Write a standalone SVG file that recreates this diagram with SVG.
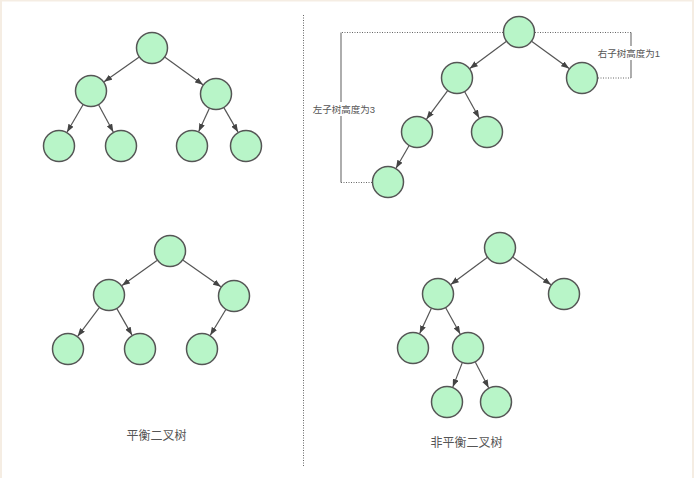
<svg xmlns="http://www.w3.org/2000/svg" width="694" height="478" viewBox="0 0 694 478">
<style>
.n{fill:#b8f5c8;stroke:#555;stroke-width:1.5}
.e{stroke:#555;stroke-width:1.2;fill:none;marker-end:url(#ah)}
.dot{stroke:#666;stroke-width:1;stroke-dasharray:1,1.5;fill:none}
.sol{stroke:#777;stroke-width:1.2;fill:none}
.t{font-family:"Liberation Sans","Noto Sans CJK SC",sans-serif;fill:#555}
</style>
<defs>
<marker id="ah" markerUnits="userSpaceOnUse" markerWidth="8" markerHeight="6" refX="8" refY="3" orient="auto">
<path d="M0,0 L8,3 L0,6 z" fill="#444"/>
</marker>
</defs>
<rect x="0" y="0" width="694" height="478" fill="#fff"/>
<rect x="0" y="0" width="694" height="1.5" fill="#f5ede3"/>
<rect x="0" y="0" width="2" height="478" fill="#f5ede3"/>
<rect x="692" y="0" width="2" height="478" fill="#f5ede3"/>

<line class="dot" x1="303.5" y1="15" x2="303.5" y2="467"/>

<g id="brackets">
<polyline class="dot" points="503,32.5 341,32.5"/>
<line class="sol" x1="341" y1="32.5" x2="341" y2="182.5"/>
<polyline class="dot" points="341,182.5 372,182.5"/>
<polyline class="dot" points="535,32.5 631,32.5"/>
<line class="sol" x1="631" y1="32.5" x2="631" y2="78"/>
<polyline class="dot" points="598,78 631,78"/>
<rect x="313" y="102" width="62" height="14" fill="#fff"/>
<text class="t" x="344" y="112.5" font-size="9.5" text-anchor="middle">左子树高度为3</text>
<rect x="598" y="46" width="62" height="14" fill="#fff"/>
<text class="t" x="629" y="56.5" font-size="9.5" text-anchor="middle">右子树高度为1</text>
</g>

<g id="connectors">
<line class="e" x1="138.9" y1="57.2" x2="104.1" y2="81.8"/>
<line class="e" x1="165" y1="57.3" x2="203" y2="84.7"/>
<line class="e" x1="83" y1="104.8" x2="67" y2="132.2"/>
<line class="e" x1="98.7" y1="105" x2="113.3" y2="132"/>
<line class="e" x1="209.3" y1="108.5" x2="198.7" y2="131.5"/>
<line class="e" x1="224" y1="107.9" x2="238" y2="132.1"/>

<line class="e" x1="157" y1="260.4" x2="122" y2="285.6"/>
<line class="e" x1="183.1" y1="260.2" x2="220.9" y2="286.8"/>
<line class="e" x1="99.3" y1="307.7" x2="77.7" y2="336.3"/>
<line class="e" x1="117" y1="308.9" x2="132" y2="335.1"/>
<line class="e" x1="225.7" y1="309.7" x2="210.3" y2="335.3"/>

<line class="e" x1="506.2" y1="41.5" x2="469.8" y2="68.5"/>
<line class="e" x1="531.9" y1="41.4" x2="569.1" y2="68.6"/>
<line class="e" x1="447.5" y1="90.9" x2="426.5" y2="119.1"/>
<line class="e" x1="464.8" y1="92" x2="479.2" y2="118"/>
<line class="e" x1="409" y1="145.8" x2="396" y2="168.2"/>

<line class="e" x1="487.2" y1="257.5" x2="450.8" y2="284.5"/>
<line class="e" x1="513" y1="257.3" x2="551" y2="284.7"/>
<line class="e" x1="431.3" y1="308.5" x2="419.7" y2="333.5"/>
<line class="e" x1="445.8" y1="308" x2="460.2" y2="334"/>
<line class="e" x1="462.2" y1="362.9" x2="452.8" y2="387.1"/>
<line class="e" x1="475.4" y1="362.2" x2="488.6" y2="387.8"/>
</g>

<g id="tree-balanced-1">
<circle id="a1" class="n" cx="152" cy="48" r="15.5"/>
<circle id="a2" class="n" cx="91" cy="91" r="15.5"/>
<circle id="a3" class="n" cx="216" cy="94" r="15.5"/>
<circle id="a4" class="n" cx="59" cy="146" r="15.5"/>
<circle id="a5" class="n" cx="121" cy="146" r="15.5"/>
<circle id="a6" class="n" cx="192" cy="146" r="15.5"/>
<circle id="a7" class="n" cx="246" cy="146" r="15.5"/>
</g>
<g id="tree-balanced-2">
<circle id="b1" class="n" cx="170" cy="251" r="15.5"/>
<circle id="b2" class="n" cx="109" cy="295" r="15.5"/>
<circle id="b3" class="n" cx="234" cy="296" r="15.5"/>
<circle id="b4" class="n" cx="68" cy="349" r="15.5"/>
<circle id="b5" class="n" cx="140" cy="349" r="15.5"/>
<circle id="b6" class="n" cx="202" cy="349" r="15.5"/>
</g>
<g id="tree-unbalanced-1">
<circle id="c1" class="n" cx="519" cy="32" r="15.5"/>
<circle id="c2" class="n" cx="457" cy="78" r="15.5"/>
<circle id="c3" class="n" cx="582" cy="78" r="15.5"/>
<circle id="c4" class="n" cx="417" cy="132" r="15.5"/>
<circle id="c5" class="n" cx="487" cy="132" r="15.5"/>
<circle id="c6" class="n" cx="388" cy="182" r="15.5"/>
</g>
<g id="tree-unbalanced-2">
<circle id="d1" class="n" cx="500" cy="248" r="15.5"/>
<circle id="d2" class="n" cx="438" cy="294" r="15.5"/>
<circle id="d3" class="n" cx="564" cy="294" r="15.5"/>
<circle id="d4" class="n" cx="413" cy="348" r="15.5"/>
<circle id="d5" class="n" cx="468" cy="348" r="15.5"/>
<circle id="d6" class="n" cx="447" cy="402" r="15.5"/>
<circle id="d7" class="n" cx="496" cy="402" r="15.5"/>
</g>

<g id="labels">
<text class="t" x="156.5" y="439.5" font-size="12" text-anchor="middle">平衡二叉树</text>
<text class="t" x="466.5" y="446.5" font-size="12" text-anchor="middle">非平衡二叉树</text>
</g>
</svg>
